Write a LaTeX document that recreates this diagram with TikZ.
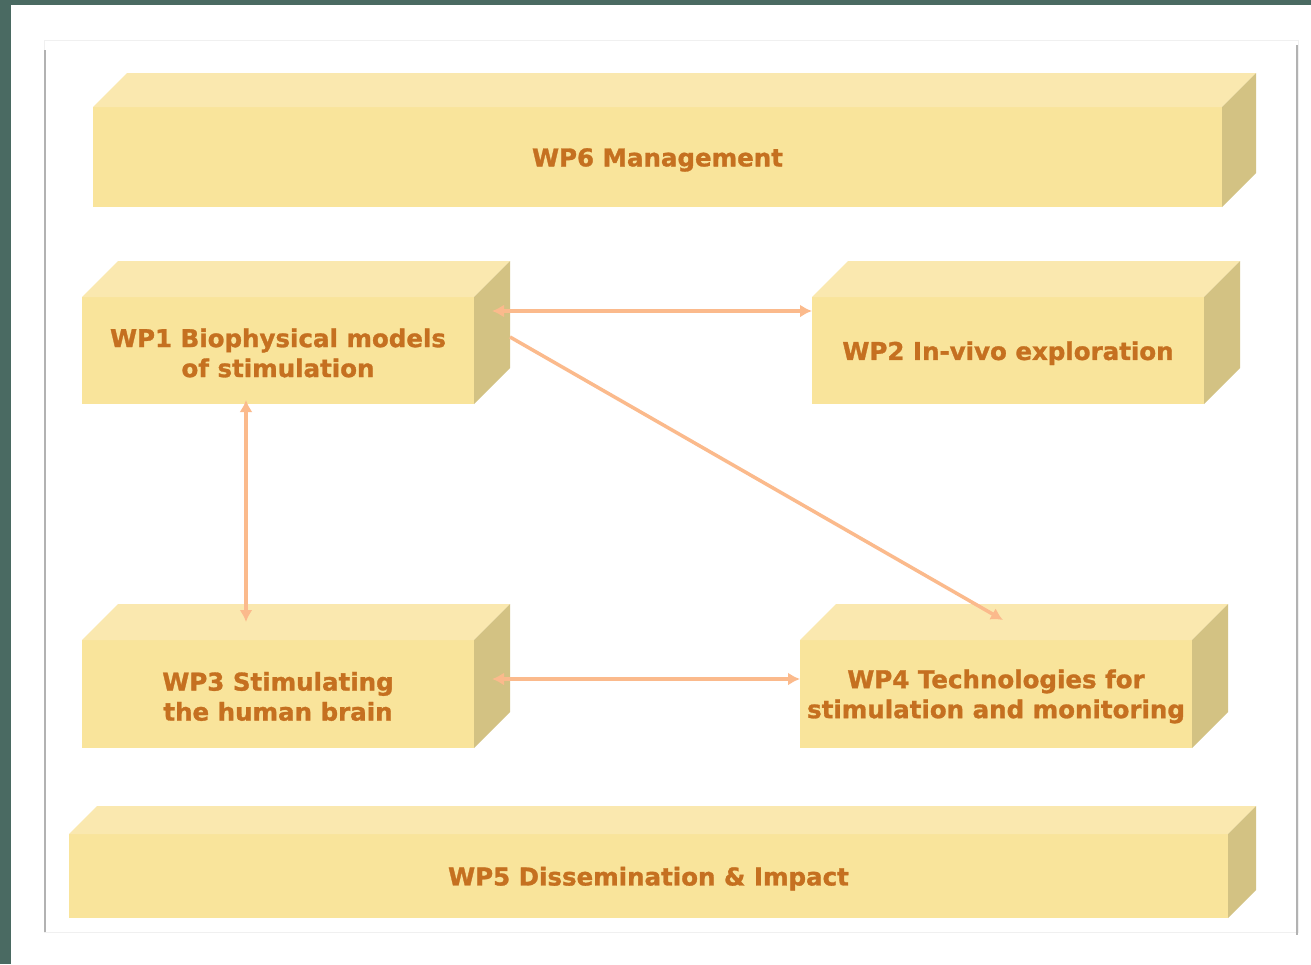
\documentclass[tikz,border=0pt]{standalone}
\usepackage{fontspec}
\setmainfont{DejaVu Sans}[BoldFeatures={FakeBold=1.2}]
\usetikzlibrary{arrows.meta}
\definecolor{bgdark}{RGB}{74,106,98}
\definecolor{wpfront}{RGB}{249,228,155}
\definecolor{wptop}{RGB}{250,232,175}
\definecolor{wpside}{RGB}{211,194,131}
\definecolor{wptext}{RGB}{197,112,32}
\definecolor{linkc}{RGB}{251,186,140}

\begin{document}
\begin{tikzpicture}[x=1pt,y=-1pt]
   \useasboundingbox (0,0) rectangle (1311,964);
   \fill[bgdark] (0,0) rectangle (1311,964);
   \fill[white] (11,5) rectangle (1311,964);
   \draw[line width=1pt,black!6] (44,40) rectangle (1298,932);
   \draw[line width=1.5pt,black!30] (45,50) -- (45,932);
   \draw[line width=1.5pt,black!30] (1297,45) -- (1297,935);
   \tikzstyle{main}=[rectangle, fill=wpfront, text=wptext, font=\bfseries\fontsize{24.5}{30}\selectfont, text height=24pt, align=center, inner sep=0pt, outer sep=0pt, minimum width=392pt, minimum height=107pt]
   \tikzstyle{twoline}=[main, text height=53.5pt]
   \tikzstyle{link}=[draw=linkc, line width=3.5pt, {Latex[length=12pt,width=13pt]}-{Latex[length=12pt,width=13pt]}]
   \node[main, minimum width=1129pt, minimum height=100pt] (wp6) at (657.5,157) {WP6 Management};
   \node[twoline] (wp1) at (278,350.5) {WP1 Biophysical models\\of stimulation};
   \node[main] (wp2) at (1008,350.5) {WP2 In-vivo exploration};
   \node[twoline, minimum height=108pt] (wp3) at (278,694) {WP3 Stimulating\\the human brain};
   \node[twoline, minimum height=108pt] (wp4) at (996,694) {WP4 Technologies for\\stimulation and monitoring};
   \node[main, minimum width=1159pt, minimum height=84pt] (wp5) at (648.5,876) {WP5 Dissemination \& Impact};
   \foreach \n/\d in {wp6/34,wp1/36,wp2/36,wp3/36,wp4/36,wp5/28} {
       \fill[wptop] (\n.north west) -- ++(\d,-\d) -- ([shift={(\d,-\d)}]\n.north east) -- (\n.north east) -- cycle;
       \fill[wpside] (\n.north east) -- ++(\d,-\d) -- ([shift={(\d,-\d)}]\n.south east) -- (\n.south east) -- cycle;
   }
   \path[link] ([xshift=18pt,yshift=39.5pt]wp1.east) -- ([yshift=39.5pt]wp2.west);
   \path[link] ([xshift=-32pt,yshift=4pt]wp1.south) -- ([xshift=-32pt,yshift=18pt]wp3.north);
   \path[link,-{Latex[length=12pt,width=13pt]}] ([xshift=36pt,yshift=13.5pt]wp1.east) -- ([xshift=7pt,yshift=20pt]wp4.north);
   \path[link] ([xshift=18pt,yshift=15pt]wp3.east) -- ([yshift=15pt]wp4.west);
\end{tikzpicture}
\end{document}
